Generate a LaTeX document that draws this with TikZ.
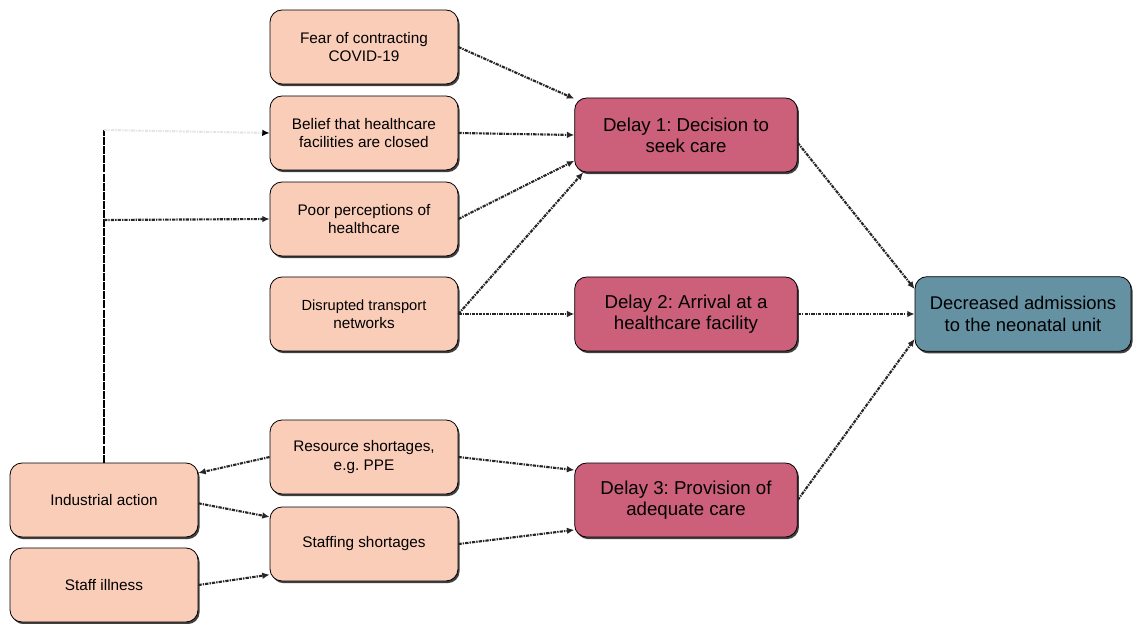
\documentclass[tikz,border=0pt]{standalone}
\usepackage{fontspec}
\setmainfont{Liberation Sans}
\usepackage{tikz}
\usetikzlibrary{calc}
\usetikzlibrary{shapes}
\usetikzlibrary{shadows}
\usetikzlibrary{arrows.meta}
\definecolor{peach}{RGB}{250,205,185}
\definecolor{delayred}{RGB}{204,96,122}
\definecolor{tealblue}{RGB}{101,146,163}
\tikzset{
  box/.style={draw=black, line width=0.6pt, rounded corners=9pt, align=center, inner sep=2pt,
    drop shadow={shadow xshift=1.2pt, shadow yshift=-1.6pt, fill=black!75, opacity=1}},
  causebox/.style={box, fill=peach, minimum width=141pt, minimum height=55.5pt, font=\fontsize{11.5}{13.8}\selectfont},
  delaybox/.style={box, fill=delayred, minimum width=167pt, minimum height=55.5pt, font=\fontsize{14}{16}\selectfont},
  outcomebox/.style={box, fill=tealblue, minimum width=162pt, minimum height=56pt, font=\fontsize{13.8}{16}\selectfont},
  link/.style={line width=1.6pt, black!85, dash pattern=on 2.5pt off 0.8pt on 1pt off 0.8pt, -{Latex[length=5.5pt,width=5pt]}},
  trunk/.style={line width=1.4pt, dash pattern=on 6pt off 0.8pt}
}
\newcommand{\causenode}[4]{\node[causebox] (#1) at ( #2 , #3 ) {#4};}
\newcommand{\delaynode}[4]{\node[delaybox] (#1) at ( #2 , #3 ) {#4};}
\newcommand{\link}[2]{\draw[link] (#1) -- (#2);}

\begin{document}
\frenchspacing
\begin{tikzpicture}[x=0.75pt,y=-0.75pt]
        \useasboundingbox (0,0) rectangle (1133,624);

        % column 1
        \causenode{industrial}{104}{500}{Industrial action}
        \causenode{illness}{104}{585}{Staff illness}

        % column 2
        \causenode{fear}{364}{47}{Fear of contracting\\COVID-19}
        \causenode{belief}{364}{133}{Belief that healthcare\\facilities are closed}
        \causenode{poor}{364}{219}{Poor perceptions of\\healthcare}
        \causenode{transport}{364}{314}{\fontsize{11}{13.5}\selectfont Disrupted transport\\networks}
        \causenode{resource}{364}{457}{Resource shortages,\\e.g. PPE}
        \causenode{staffing}{364}{544}{Staffing shortages}

        % delays
        \delaynode{delay1}{686}{135}{Delay 1: Decision to\\seek care}
        \delaynode{delay2}{686}{314}{Delay 2: Arrival at a\\healthcare facility}
        \delaynode{delay3}{686}{500}{Delay 3: Provision of\\adequate care}

        % outcome
        \node[outcomebox] (admissions) at (1023,314) {Decreased admissions\\to the neonatal unit};

        % trunk from industrial action
        \coordinate (trunktop) at (104,130);
        \coordinate (trunkmid) at (104,220);
        \draw[trunk] (industrial.north) -- (trunktop);
        \draw[link] (trunkmid) -- (poor.west);
        \draw[link, draw=black!10, -{Latex[length=5.5pt,width=5pt,color=black]}] (trunktop) -- (belief.west);

        % into delay 1
        \link{fear.east}{delay1.162}
        \link{belief.east}{delay1.west}
        \link{poor.east}{delay1.193}
        \link{transport.east}{delay1.200}

        % into delay 2
        \link{transport.east}{delay2.west}

        % into delay 3
        \link{resource.east}{delay3.165}
        \link{staffing.east}{delay3.195}

        % around the staff boxes
        \link{resource.west}{industrial.16}
        \link{industrial.-2}{staffing.164}
        \link{illness.east}{staffing.198}

        % into outcome
        \link{delay1.-4}{admissions.167}
        \link{delay2.east}{admissions.west}
        \link{delay3.east}{admissions.193}

    \end{tikzpicture}
\end{document}
